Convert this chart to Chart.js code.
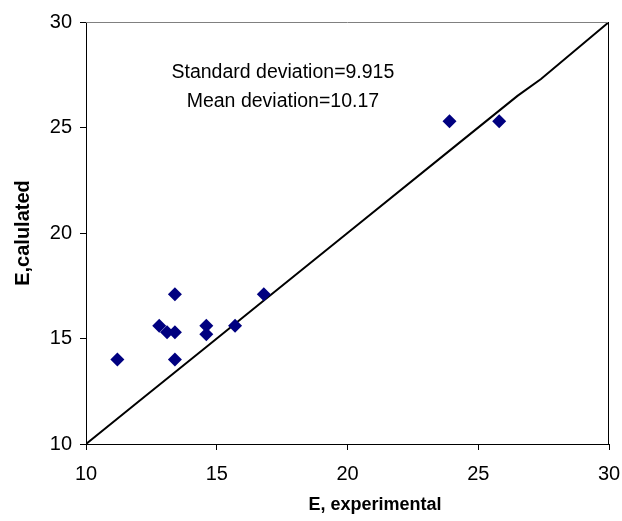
<!DOCTYPE html>
<html>
<head>
<meta charset="utf-8">
<script src="https://cdn.jsdelivr.net/npm/chart.js@4/dist/chart.umd.min.js"></script>
<style>
  html, body { margin: 0; padding: 0; background: #fff; }
  #wrap { width: 622px; height: 521px; }
</style>
</head>
<body>
<div id="wrap"><canvas id="chart1"></canvas></div>
<script>
// E experimental vs E calculated
const expValues = [11.2, 12.8, 13.1, 13.4, 13.4, 13.4, 14.6, 14.6, 15.7, 16.8, 23.9, 25.8];
const calcValues = [14.0, 15.6, 15.3, 15.3, 17.1, 14.0, 15.6, 15.2, 15.6, 17.1, 25.3, 25.3];

// the y = x reference line, as drawn
const lineX = [10, 12, 14.6, 15.7, 16.8, 20, 24.2, 26.5, 27.4, 30];
const lineY = [10, 12, 14.6, 15.7, 16.8, 20, 24.2, 26.5, 27.3, 30];

const axisTicks = [10, 15, 20, 25, 30];
const noteLines = ['Standard deviation=9.915', 'Mean deviation=10.17'];
const xTitle = 'E, experimental';

const points = expValues.map((x, i) => ({ x: x, y: calcValues[i] }));
const linePoints = lineX.map((x, i) => ({ x: x, y: lineY[i] }));

const frame = {
    id: 'frame',
    afterDatasetsDraw(chart) {
        const a = chart.chartArea;
        const ctx = chart.ctx;
        ctx.save();
        ctx.lineWidth = 1;
        ctx.strokeStyle = '#808080';
        ctx.beginPath();
        ctx.moveTo(a.left, a.top + 0.5);
        ctx.lineTo(a.right, a.top + 0.5);
        ctx.stroke();
        ctx.strokeStyle = '#000';
        ctx.beginPath();
        ctx.moveTo(a.right - 0.5, a.top);
        ctx.lineTo(a.right - 0.5, a.bottom);
        ctx.stroke();

        // annotation text
        const xs = chart.scales.x, ys = chart.scales.y;
        ctx.fillStyle = '#000';
        ctx.font = '19.5px "Liberation Sans", Arial, sans-serif';
        ctx.textAlign = 'center';
        ctx.textBaseline = 'middle';
        ctx.fillText(noteLines[0], xs.getPixelForValue(17.53), ys.getPixelForValue(27.6));
        ctx.fillText(noteLines[1], xs.getPixelForValue(17.53), ys.getPixelForValue(26.22));

        // x axis title sits a bit right of centre in the original
        ctx.font = 'bold 18px "Liberation Sans", Arial, sans-serif';
        ctx.fillText(xTitle, xs.getPixelForValue(21.05), xs.bottom - 16);
        ctx.restore();
    }
};

const font = { family: '"Liberation Sans", Arial, sans-serif', size: 20 };

new Chart(document.getElementById('chart1').getContext('2d'), {
    type: 'scatter',
    data: {
        datasets: [{
            label: 'line',
            data: linePoints,
            showLine: true,
            borderColor: '#000',
            borderWidth: 2,
            pointRadius: 0,
            fill: false,
            order: 2
        },
        {
            label: 'E',
            data: points,
            pointStyle: 'rectRot',
            pointRadius: 7,
            backgroundColor: '#000080',
            borderColor: '#000080',
            borderWidth: 0,
            order: 1
        }]
    },
    options: {
        responsive: true,
        maintainAspectRatio: false,
        animation: false,
        layout: { padding: { left: 0, right: 13, top: 22, bottom: 0 } },
        plugins: { legend: { display: false }, tooltip: { enabled: false } },
        scales: {
            x: {
                type: 'linear',
                min: 10, max: 30,
                afterBuildTicks: (s) => { s.ticks = axisTicks.map(v => ({ value: v })); },
                afterFit: (s) => { s.height = 77; s.paddingRight = 0; s.paddingLeft = 0; },
                border: { display: true, color: '#000', width: 1 },
                grid: { drawOnChartArea: false, tickLength: 6, tickColor: '#000' },
                ticks: { color: '#000', font: font, padding: 12, maxRotation: 0 },
                title: { display: false }
            },
            y: {
                type: 'linear',
                min: 10, max: 30,
                afterBuildTicks: (s) => { s.ticks = axisTicks.map(v => ({ value: v })); },
                afterFit: (s) => { s.width = 86; },
                border: { display: true, color: '#000', width: 1 },
                grid: { drawOnChartArea: false, tickLength: 6, tickColor: '#000' },
                ticks: { color: '#000', font: font, padding: 8 },
                title: {
                    display: true, text: 'E,calulated', color: '#000',
                    font: { family: font.family, size: 20, weight: 'bold' },
                    padding: { top: 11, bottom: 0 }
                }
            }
        }
    },
    plugins: [frame]
});
</script>
</body>
</html>
